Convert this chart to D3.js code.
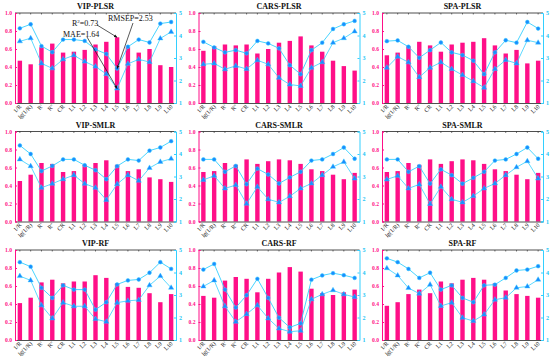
<!DOCTYPE html>
<html lang="en">
<head>
  <meta charset="UTF-8">
  <title>Model comparison</title>
  <script src="https://cdn.jsdelivr.net/npm/d3@7"></script>
  <style>
    html, body { margin: 0; padding: 0; background: #fff; }
    svg { display: block; font-family: "Liberation Serif", "DejaVu Serif", serif; }
  </style>
</head>
<body>
  <div id="chart"></div>
  <script>
    const categories = ["1/R", "lg(1/R)", "R'", "R''", "CR", "L1", "L2", "L3", "L4", "L5", "L6", "L7", "L8", "L9", "L10"];
    const titles = ["VIP-PLSR", "CARS-PLSR", "SPA-PLSR", "VIP-SMLR", "CARS-SMLR", "SPA-SMLR", "VIP-RF", "CARS-RF", "SPA-RF"];
    const leftTicks = [0, 0.2, 0.4, 0.6, 0.8, 1.0];
    const rightTicks = [1, 2, 3, 4, 5];

    // R2 (bars), RMSEP (circles), MAE (triangles)
    const vipPlsrR2 = [0.47, 0.43, 0.62, 0.66, 0.56, 0.57, 0.59, 0.65, 0.68, 0.73, 0.62, 0.56, 0.60, 0.42, 0.40];
    const vipPlsrRmsep = [4.32, 4.50, 3.53, 3.26, 3.82, 3.82, 3.76, 3.38, 3.18, 2.53, 3.50, 3.82, 3.69, 4.53, 4.60];
    const vipPlsrMae = [3.74, 3.88, 2.76, 2.54, 2.94, 3.12, 2.84, 2.62, 2.29, 1.64, 2.74, 2.94, 2.82, 3.87, 4.16];

    const carsPlsrR2 = [0.58, 0.63, 0.65, 0.64, 0.65, 0.55, 0.60, 0.67, 0.69, 0.74, 0.64, 0.57, 0.47, 0.41, 0.36];
    const carsPlsrRmsep = [3.72, 3.47, 3.25, 3.35, 3.21, 3.76, 3.65, 3.43, 2.68, 2.28, 3.35, 3.68, 4.29, 4.50, 4.65];
    const carsPlsrMae = [2.72, 2.76, 2.50, 2.65, 2.51, 2.90, 2.72, 2.12, 1.82, 1.76, 2.57, 2.81, 3.68, 3.88, 4.18];

    const spaPlsrR2 = [0.53, 0.56, 0.63, 0.68, 0.64, 0.57, 0.65, 0.67, 0.68, 0.72, 0.64, 0.55, 0.59, 0.44, 0.47];
    const spaPlsrRmsep = [3.75, 3.78, 3.50, 3.01, 3.35, 3.69, 3.25, 3.13, 2.88, 2.28, 3.25, 3.79, 3.68, 4.60, 4.31];
    const spaPlsrMae = [2.57, 3.06, 2.81, 2.15, 2.57, 2.81, 2.51, 2.24, 1.97, 1.68, 2.51, 2.91, 2.76, 3.79, 3.68];

    const vipSmlrR2 = [0.45, 0.52, 0.65, 0.64, 0.55, 0.56, 0.63, 0.65, 0.68, 0.63, 0.56, 0.58, 0.49, 0.47, 0.44];
    const vipSmlrRmsep = [4.38, 4.00, 3.24, 3.47, 3.76, 3.76, 3.50, 3.28, 2.88, 3.46, 3.76, 3.71, 4.15, 4.29, 4.57];
    const vipSmlrMae = [3.76, 3.46, 2.50, 2.68, 2.88, 3.06, 2.68, 2.50, 1.96, 2.66, 3.06, 2.81, 3.38, 3.65, 3.79];

    const carsSmlrR2 = [0.55, 0.56, 0.65, 0.63, 0.69, 0.64, 0.67, 0.69, 0.68, 0.64, 0.58, 0.56, 0.52, 0.47, 0.54];
    const carsSmlrRmsep = [3.76, 3.76, 3.21, 3.47, 2.66, 3.35, 3.09, 2.69, 2.96, 3.21, 3.71, 3.76, 4.00, 4.29, 3.79];
    const carsSmlrMae = [2.85, 3.03, 2.47, 2.62, 1.79, 2.54, 1.99, 1.85, 2.12, 2.47, 2.69, 3.06, 3.43, 3.65, 2.91];

    const spaSmlrR2 = [0.55, 0.56, 0.65, 0.63, 0.69, 0.64, 0.67, 0.69, 0.68, 0.64, 0.58, 0.56, 0.52, 0.47, 0.54];
    const spaSmlrRmsep = [3.76, 3.76, 3.21, 3.46, 2.68, 3.32, 3.06, 2.68, 2.94, 3.21, 3.71, 3.76, 4.00, 4.29, 3.79];
    const spaSmlrMae = [2.87, 3.03, 2.47, 2.65, 1.78, 2.54, 1.99, 1.85, 2.13, 2.47, 2.69, 3.06, 3.41, 3.68, 2.91];

    const vipRfR2 = [0.41, 0.47, 0.64, 0.67, 0.63, 0.65, 0.65, 0.72, 0.69, 0.63, 0.59, 0.58, 0.52, 0.42, 0.51];
    const vipRfRmsep = [4.46, 4.26, 3.32, 2.87, 3.43, 3.24, 3.24, 2.35, 2.68, 3.47, 3.65, 3.69, 3.99, 4.46, 4.16];
    const vipRfMae = [3.84, 3.65, 2.54, 1.96, 2.66, 2.50, 2.50, 1.93, 1.81, 2.66, 2.74, 2.78, 3.43, 3.84, 3.32];

    const carsRfR2 = [0.49, 0.47, 0.66, 0.70, 0.68, 0.53, 0.68, 0.75, 0.81, 0.76, 0.57, 0.52, 0.50, 0.53, 0.56];
    const carsRfRmsep = [4.13, 4.38, 3.24, 2.44, 2.99, 3.72, 2.87, 1.99, 1.56, 1.74, 3.68, 3.87, 3.97, 3.88, 3.76];
    const carsRfMae = [3.38, 3.65, 2.50, 1.81, 2.15, 2.54, 1.96, 1.51, 1.37, 1.41, 2.81, 3.03, 3.21, 3.03, 2.91];

    const spaRfR2 = [0.38, 0.42, 0.51, 0.56, 0.52, 0.65, 0.63, 0.67, 0.69, 0.67, 0.63, 0.55, 0.51, 0.49, 0.47];
    const spaRfRmsep = [4.63, 4.46, 4.16, 3.76, 3.99, 3.24, 3.43, 2.87, 2.68, 3.43, 3.46, 3.76, 4.09, 4.13, 4.28];
    const spaRfMae = [4.19, 3.87, 3.31, 3.06, 3.46, 2.51, 2.66, 1.99, 1.84, 2.13, 2.79, 2.88, 3.32, 3.38, 3.68];

    const r2Sets = [vipPlsrR2, carsPlsrR2, spaPlsrR2, vipSmlrR2, carsSmlrR2, spaSmlrR2, vipRfR2, carsRfR2, spaRfR2];
    const rmsepSets = [vipPlsrRmsep, carsPlsrRmsep, spaPlsrRmsep, vipSmlrRmsep, carsSmlrRmsep, spaSmlrRmsep, vipRfRmsep, carsRfRmsep, spaRfRmsep];
    const maeSets = [vipPlsrMae, carsPlsrMae, spaPlsrMae, vipSmlrMae, carsSmlrMae, spaSmlrMae, vipRfMae, carsRfMae, spaRfMae];

    const W = 550, H = 362;
    const pink = '#ff0f88', cyan = '#33cfff', blue = '#1a8cff';
    const colStep = 183.5, rowStep = 118.5;
    const plotW = 161, plotH = 90;

    const svg = d3.select('#chart').append('svg')
      .attr('width', W).attr('height', H);

    const x = d3.scalePoint().domain(categories).range([0, plotW]).padding(0.45);
    const yL = d3.scaleLinear().domain([0, 1]).range([plotH, 0]);
    const yR = d3.scaleLinear().domain([1, 5]).range([plotH, 0]);

    titles.forEach((title, i) => {
      const col = i % 3, row = Math.floor(i / 3);
      const g = svg.append('g')
        .attr('transform', `translate(${15 + col * colStep},${13 + row * rowStep})`);

      const r2 = r2Sets[i], rmsep = rmsepSets[i], mae = maeSets[i];

      // bars
      g.selectAll('rect.bar').data(r2).join('rect')
        .attr('class', 'bar')
        .attr('x', (d, k) => x(categories[k]) - 2.2)
        .attr('width', 4.4)
        .attr('y', d => yL(d))
        .attr('height', d => plotH - yL(d))
        .attr('fill', pink);

      // top border with ticks
      g.append('line').attr('x1', 0).attr('x2', plotW).attr('y1', 0).attr('y2', 0)
        .attr('stroke', '#222').attr('stroke-width', 0.8);
      g.selectAll('line.tt').data(categories).join('line')
        .attr('class', 'tt')
        .attr('x1', d => x(d)).attr('x2', d => x(d))
        .attr('y1', 0).attr('y2', 1.5)
        .attr('stroke', '#222').attr('stroke-width', 0.6);

      // bottom axis
      const bottom = g.append('g').attr('transform', `translate(0,${plotH})`)
        .call(d3.axisBottom(x).tickSize(0).tickFormat(''));
      bottom.select('.domain').attr('stroke', '#222').attr('stroke-width', 0.8);
      g.selectAll('text.cat').data(categories).join('text')
        .attr('class', 'cat')
        .attr('transform', d => `translate(${x(d) + 2},${plotH + 4}) rotate(-45)`)
        .attr('text-anchor', 'end')
        .attr('font-size', 6)
        .attr('fill', '#222')
        .text(d => d);

      // left axis
      const left = g.append('g')
        .call(d3.axisLeft(yL).tickValues(leftTicks).tickSize(-2).tickPadding(3).tickFormat(d3.format('.1f')));
      left.select('.domain').attr('stroke', pink).attr('stroke-width', 1);
      left.selectAll('.tick line').attr('stroke', pink);
      left.selectAll('.tick text').attr('fill', pink).attr('font-size', 5.6)
        .attr('font-weight', 'bold').attr('font-family', '"Liberation Serif", serif');

      // right axis
      const right = g.append('g').attr('transform', `translate(${plotW},0)`)
        .call(d3.axisRight(yR).tickValues(rightTicks).tickSize(-2).tickPadding(3).tickFormat(d3.format('d')));
      right.select('.domain').attr('stroke', cyan).attr('stroke-width', 1);
      right.selectAll('.tick line').attr('stroke', cyan);
      right.selectAll('.tick text').attr('fill', '#22c4f5').attr('font-size', 6)
        .attr('font-weight', 'bold').attr('font-family', '"Liberation Serif", serif');

      // lines
      const line = d3.line().x((d, k) => x(categories[k])).y(d => yR(d));
      g.append('path').datum(mae).attr('d', line)
        .attr('fill', 'none').attr('stroke', cyan).attr('stroke-width', 0.8);
      g.append('path').datum(rmsep).attr('d', line)
        .attr('fill', 'none').attr('stroke', cyan).attr('stroke-width', 0.9);

      g.selectAll('circle.rm').data(rmsep).join('circle')
        .attr('class', 'rm')
        .attr('cx', (d, k) => x(categories[k]))
        .attr('cy', d => yR(d))
        .attr('r', 1.9)
        .attr('fill', blue).attr('stroke', cyan).attr('stroke-width', 0.5);

      const tri = d3.symbol().type(d3.symbolTriangle).size(12);
      g.selectAll('path.ma').data(mae).join('path')
        .attr('class', 'ma')
        .attr('transform', (d, k) => `translate(${x(categories[k])},${yR(d)})`)
        .attr('d', tri)
        .attr('fill', blue).attr('stroke', cyan).attr('stroke-width', 0.4);

      // title
      g.append('text')
        .attr('x', plotW / 2).attr('y', -4)
        .attr('text-anchor', 'middle')
        .attr('font-size', 8).attr('font-weight', 'bold')
        .attr('fill', '#111')
        .text(title);

      if (i === 0) {
        const k = categories.indexOf('L5');
        const px = x('L5');
        const notes = [
          { label: 'R', sup: '2', rest: '=0.73', tx: 57, ty: 13, ax: 82, ay: 12, bx: px, by: yL(r2[k]) },
          { label: 'MAE=1.64', tx: 48, ty: 24, ax: 72, ay: 24, bx: px, by: yR(mae[k]) },
          { label: 'RMSEP=2.53', tx: 93, ty: 8, ax: 118, ay: 10, bx: px, by: yR(rmsep[k]) }
        ];
        svg.append('defs').append('marker')
          .attr('id', 'arr').attr('viewBox', '0 0 10 10')
          .attr('refX', 9).attr('refY', 5)
          .attr('markerWidth', 5).attr('markerHeight', 5)
          .attr('orient', 'auto')
          .append('path').attr('d', 'M0,1L10,5L0,9z').attr('fill', '#111');
        notes.forEach(n => {
          const t = g.append('text').attr('x', n.tx).attr('y', n.ty)
            .attr('font-size', 8).attr('fill', '#111');
          t.append('tspan').text(n.label);
          if (n.sup) {
            t.append('tspan').attr('font-size', 5).attr('dy', -3).text(n.sup);
            t.append('tspan').attr('dy', 3).text(n.rest);
          }
          g.append('line')
            .attr('x1', n.ax).attr('y1', n.ay)
            .attr('x2', n.bx).attr('y2', n.by)
            .attr('stroke', '#111').attr('stroke-width', 0.7)
            .attr('marker-end', 'url(#arr)');
        });
      }
    });
  </script>
</body>
</html>
